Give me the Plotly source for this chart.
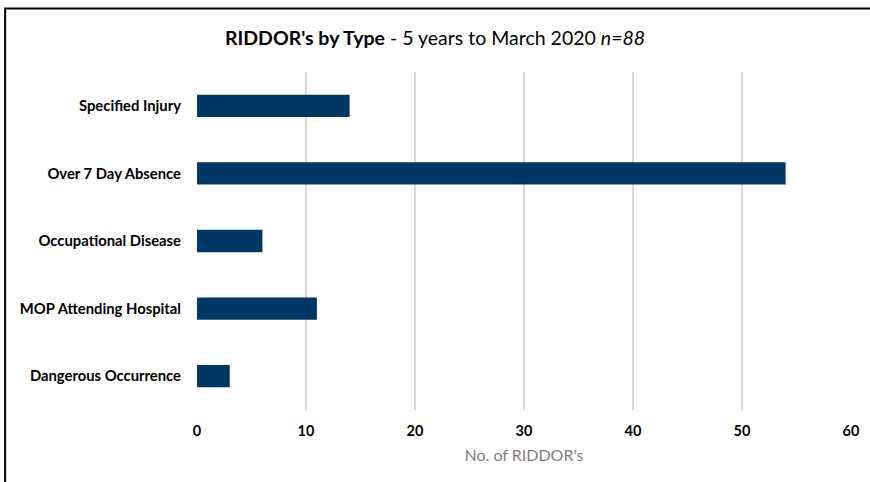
import plotly.graph_objects as go

categories = ["Specified Injury", "Over 7 Day Absence", "Occupational Disease",
              "MOP Attending Hospital", "Dangerous Occurrence"]
values = [14, 54, 6, 11, 3]
x_ticks = [0, 10, 20, 30, 40, 50, 60]

W, H = 870, 482
L, R, T, B = 197, 18.5, 72, 72
pw, ph = W - L - R, H - T - B

def px(x):
    return (x - L) / pw

def py(y):
    return (H - B - y) / ph

FONT = "Lato, Open Sans, sans-serif"

fig = go.Figure(go.Bar(
    x=values, y=categories, orientation="h",
    marker=dict(color="#003865", line=dict(width=0)),
    width=0.33,
))

fig.update_layout(
    width=W, height=H,
    margin=dict(l=L, r=R, t=T, b=B),
    paper_bgcolor="white", plot_bgcolor="white",
    font=dict(family=FONT, color="#000000"),
    title=dict(
        text="<b>RIDDOR's by Type</b> - 5 years to March 2020 <i>n=88</i>",
        x=0.5, xanchor="center", y=1 - 38 / H, yanchor="middle",
        font=dict(size=19.5, color="#000000", family=FONT),
    ),
    xaxis=dict(
        range=[0, 60], tickvals=x_ticks,
        showgrid=True, gridcolor="#d9d9d9", gridwidth=1.5,
        zeroline=False, showline=False, automargin=False,
        tickfont=dict(size=14.5, color="#000000", family=FONT, weight="bold"),
        ticks="", ticklabelstandoff=10,
        title=dict(text="No. of RIDDOR's", font=dict(size=16, color="#7f7f7f", family=FONT), standoff=12),
    ),
    yaxis=dict(
        categoryorder="array", categoryarray=categories[::-1],
        showgrid=False, zeroline=False, showline=False, automargin=False,
        tickfont=dict(size=14.8, color="#000000", family=FONT, weight="bold"),
        ticks="", ticklabelstandoff=15,
    ),
    bargap=0.67,
    showlegend=False,
)

# outer chart border (left, top)
fig.add_shape(type="rect", xref="paper", yref="paper",
              x0=px(5), x1=px(880), y0=py(492), y1=py(8.5),
              line=dict(color="#000000", width=2), fillcolor="rgba(0,0,0,0)",
              layer="above")

fig.write_html("out.html")
